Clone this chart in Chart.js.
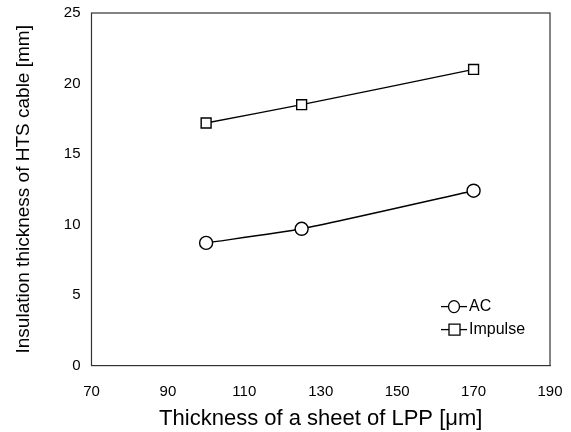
<!DOCTYPE html>
<html>
<head>
<meta charset="utf-8">
<script src="https://cdn.jsdelivr.net/npm/chart.js@4/dist/chart.umd.min.js"></script>
<style>
  html, body { margin: 0; padding: 0; background: #fff; }
  #wrap { width: 571px; height: 432px; }
</style>
</head>
<body>
<div id="wrap"><canvas id="chartCanvas" width="571" height="432"></canvas></div>
<script>
const thickness = [100, 125, 170];
const acValues = [8.7, 9.7, 12.4];
const impulseValues = [17.2, 18.5, 21.0];
const xTicks = [70, 90, 110, 130, 150, 170, 190];
const yTicks = [0, 5, 10, 15, 20, 25];

const font = "'Liberation Sans', Arial, sans-serif";

function toPoints(xs, ys) {
    return xs.map((x, i) => ({ x: x, y: ys[i] }));
}

// box around the plot area
const frame = {
    id: "frame",
    afterDraw(chart) {
        const a = chart.chartArea;
        const ctx = chart.ctx;
        ctx.save();
        ctx.strokeStyle = "#333";
        ctx.lineWidth = 1.2;
        ctx.strokeRect(a.left, a.top, a.right - a.left, a.bottom - a.top);
        ctx.restore();
    }
};

// legend drawn inside the plot, lower right, line + marker style
const innerLegend = {
    id: "innerLegend",
    afterDraw(chart) {
        const ctx = chart.ctx;
        const a = chart.chartArea;
        const x0 = a.right - 109;
        let y = a.bottom - 59;
        ctx.save();
        chart.data.datasets.forEach(ds => {
            ctx.strokeStyle = "#000";
            ctx.lineWidth = 1.3;
            ctx.beginPath();
            ctx.moveTo(x0, y);
            ctx.lineTo(x0 + 26, y);
            ctx.stroke();
            ctx.fillStyle = "#fff";
            ctx.beginPath();
            if (ds.pointStyle === "rect") {
                ctx.rect(x0 + 8, y - 5.5, 11, 11);
            } else {
                ctx.ellipse(x0 + 13, y, 5.5, 6, 0, 0, Math.PI * 2);
            }
            ctx.fill();
            ctx.stroke();
            ctx.fillStyle = "#000";
            ctx.font = "16px " + font;
            ctx.textBaseline = "middle";
            ctx.fillText(ds.label, x0 + 28, y);
            y += 23;
        });
        ctx.restore();
    }
};

new Chart(document.getElementById("chartCanvas").getContext("2d"), {
    type: "line",
    data: {
        datasets: [
            {
                label: "AC",
                data: toPoints(thickness, acValues),
                borderColor: "#000",
                borderWidth: 1.4,
                pointStyle: "circle",
                pointRadius: 6.5,
                pointBackgroundColor: "#fff",
                pointBorderColor: "#000",
                pointBorderWidth: 1.4,
                tension: 0.2,
                fill: false
            },
            {
                label: "Impulse",
                data: toPoints(thickness, impulseValues),
                borderColor: "#000",
                borderWidth: 1.4,
                pointStyle: "rect",
                pointRadius: 7,
                pointBackgroundColor: "#fff",
                pointBorderColor: "#000",
                pointBorderWidth: 1.4,
                tension: 0.2,
                fill: false
            }
        ]
    },
    options: {
        responsive: false,
        animation: false,
        layout: { padding: { top: 0, right: 0, left: 12, bottom: 0 } },
        plugins: {
            legend: { display: false },
            tooltip: { enabled: false }
        },
        scales: {
            x: {
                type: "linear",
                min: 70,
                max: 190,
                afterBuildTicks: axis => { axis.ticks = xTicks.map(v => ({ value: v })); },
                afterFit: axis => { axis.paddingRight = 21; },
                grid: { display: false, drawTicks: false },
                border: { display: true, color: "#333" },
                ticks: { color: "#000", padding: 17, font: { family: font, size: 15 } },
                title: {
                    display: true,
                    text: "Thickness of a sheet of LPP [\u03bcm]",
                    color: "#000",
                    padding: { top: -12, bottom: 0 },
                    font: { family: font, size: 22 }
                }
            },
            y: {
                min: 0,
                max: 25,
                afterBuildTicks: axis => { axis.ticks = yTicks.map(v => ({ value: v })); },
                afterFit: axis => { axis.paddingTop = 13; },
                grid: { display: false, drawTicks: false },
                border: { display: true, color: "#333" },
                ticks: { color: "#000", padding: 11, font: { family: font, size: 15 } },
                title: {
                    display: true,
                    text: "Insulation thickness of HTS cable [mm]",
                    color: "#000",
                    padding: { top: 0, bottom: 18 },
                    font: { family: font, size: 19 }
                }
            }
        }
    },
    plugins: [frame, innerLegend]
});
</script>
</body>
</html>
